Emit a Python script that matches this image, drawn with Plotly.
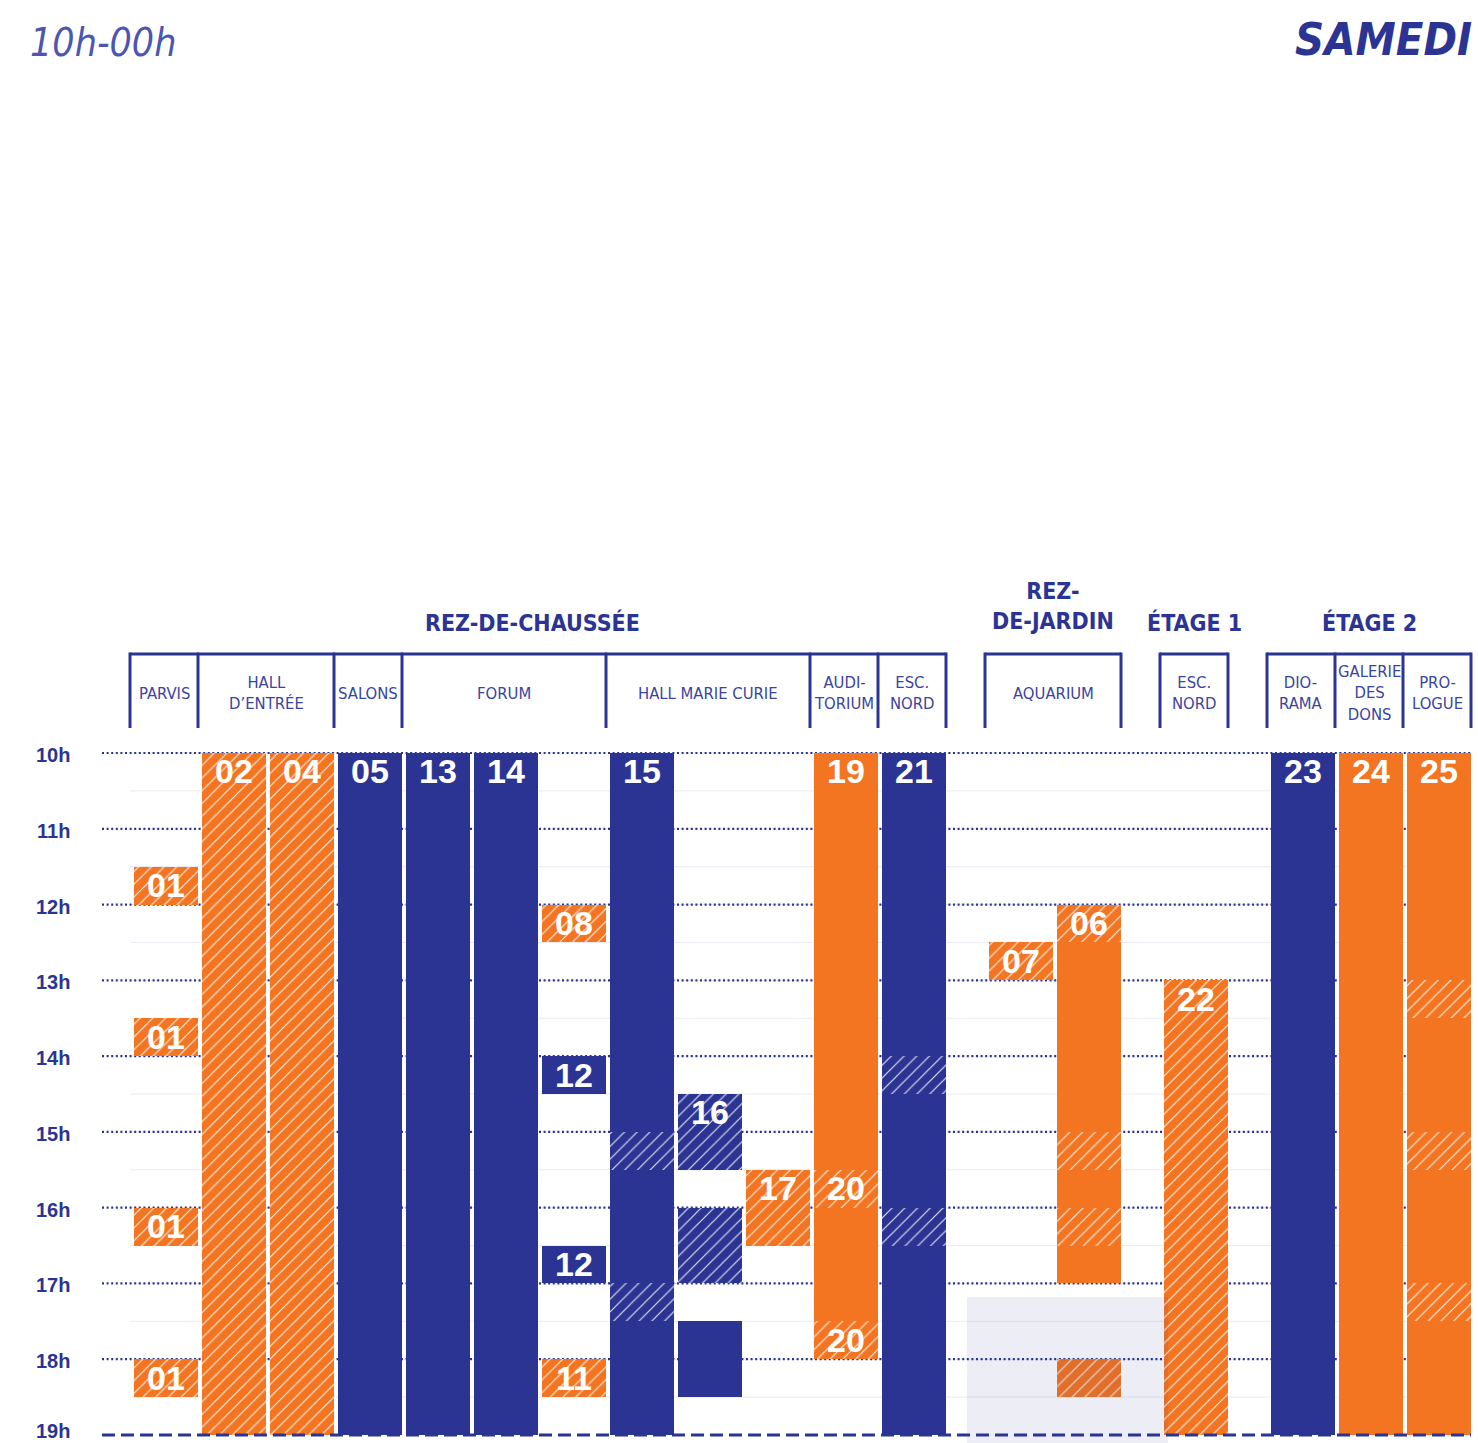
import plotly.graph_objects as go

W, H = 1478, 1443
NAVY = "#2B3492"
ORANGE = "#F37521"
TEXT_NAVY = "#3A44A2"
NARROW = "'DejaVu Sans Condensed', 'Liberation Sans Narrow', 'Arial Narrow', sans-serif"
SANS = "'Liberation Sans', Arial, sans-serif"

# ---------------- data ----------------
hours = list(range(10, 20))
hour_labels = [f"{h}h" for h in hours]

floors = ["REZ-DE-CHAUSSÉE", "REZ-<br>DE-JARDIN", "ÉTAGE 1", "ÉTAGE 2"]
venue_names = ["PARVIS", "HALL<br>D’ENTRÉE", "SALONS", "FORUM", "HALL MARIE CURIE",
               "AUDI-<br>TORIUM", "ESC.<br>NORD", "AQUARIUM", "ESC.<br>NORD",
               "DIO-<br>RAMA", "GALERIE<br>DES<br>DONS", "PRO-<br>LOGUE"]
venue_slots = [1, 2, 1, 3, 3, 1, 1, 2, 1, 1, 1, 1]
venue_floor = [0, 0, 0, 0, 0, 0, 0, 1, 2, 3, 3, 3]

# segments: slot index, start hour, end hour, kind (O/N = orange/navy, H = hatched)
seg_slot = [0, 0, 0, 0,
            1, 2, 3, 4, 5,
            6, 6, 6, 6,
            7, 7, 7, 7, 7,
            8, 8, 8,
            9,
            10, 10, 10, 10,
            11, 11, 11, 11, 11,
            12,
            13, 13, 13, 13, 13, 13, 13,
            14,
            15, 16,
            17, 17, 17, 17, 17, 17, 17]
seg_start = [11.5, 13.5, 16, 18,
             10, 10, 10, 10, 10,
             12, 14, 16.5, 18,
             10, 15, 15.5, 17, 17.5,
             14.5, 16, 17.5,
             15.5,
             10, 15.5, 16, 17.5,
             10, 14, 14.5, 16, 16.5,
             12.5,
             12, 12.5, 15, 15.5, 16, 16.5, 18,
             13,
             10, 10,
             10, 13, 13.5, 15, 15.5, 17, 17.5]
seg_end = [12, 14, 16.5, 18.5,
           19, 19, 19, 19, 19,
           12.5, 14.5, 17, 18.5,
           15, 15.5, 17, 17.5, 19,
           15.5, 17, 18.5,
           16.5,
           15.5, 16, 17.5, 18,
           14, 14.5, 16, 16.5, 19,
           13,
           12.5, 15, 15.5, 16, 16.5, 17, 18.5,
           19,
           19, 19,
           13, 13.5, 15, 15.5, 17, 17.5, 19]
seg_kind = ["OH", "OH", "OH", "OH",
            "OH", "OH", "N", "N", "N",
            "OH", "N", "N", "OH",
            "N", "NH", "N", "NH", "N",
            "NH", "NH", "N",
            "OH",
            "O", "OH", "O", "OH",
            "N", "NH", "N", "NH", "N",
            "OH",
            "OH", "O", "OH", "O", "OH", "O", "OH",
            "OH",
            "N", "O",
            "O", "OH", "O", "OH", "O", "OH", "O"]

label_text = ["01", "01", "01", "01", "02", "04", "05", "13", "14", "08", "12", "12", "11",
              "15", "16", "17", "19", "20", "20", "21", "07", "06", "22", "23", "24", "25"]
label_slot = [0, 0, 0, 0, 1, 2, 3, 4, 5, 6, 6, 6, 6,
              7, 8, 9, 10, 10, 10, 11, 12, 13, 14, 15, 16, 17]
label_start = [11.5, 13.5, 16, 18, 10, 10, 10, 10, 10, 12, 14, 16.5, 18,
               10, 14.5, 15.5, 10, 15.5, 17.5, 10, 12.5, 12, 13, 10, 10, 10]

# ---------------- layout helpers ----------------
SLOT_W = 68
X_START = 130
FLOOR_GAP = 39
BAR_W = 64
Y_TOP_PX, Y_BOT_PX = 753, 1435  # pixel rows of 10h and 19h
ppu = (Y_BOT_PX - Y_TOP_PX) / (hours[-1] - hours[0])
y_range = [hours[-1] + (H - Y_BOT_PX) / ppu, hours[0] - Y_TOP_PX / ppu]


def py(px):
    return 1 - px / H


def hour_of(px):
    return hours[0] + (px - Y_TOP_PX) / ppu


# slot lefts & venue boxes
slot_left = []
venue_left, venue_right = [], []
x = X_START
prev_floor = venue_floor[0]
for n, f in zip(venue_slots, venue_floor):
    if f != prev_floor:
        x += FLOOR_GAP
        prev_floor = f
    venue_left.append(x)
    for k in range(n):
        slot_left.append(x + k * SLOT_W)
    x += n * SLOT_W
    venue_right.append(x)

slot_center = [l + SLOT_W / 2 + 2 for l in slot_left]
X_LINE0 = 102
X_LINE1 = venue_right[-1]

fig = go.Figure()

styles = {
    "O": dict(color=ORANGE, hatch=False),
    "OH": dict(color=ORANGE, hatch=True),
    "N": dict(color=NAVY, hatch=False),
    "NH": dict(color=NAVY, hatch=True),
}
for kind, st in styles.items():
    idx = [i for i, k in enumerate(seg_kind) if k == kind]
    marker = dict(color=st["color"], line=dict(width=0))
    if st["hatch"]:
        marker["pattern"] = dict(shape="/", fgcolor="white", bgcolor=st["color"],
                                 size=9, solidity=0.13, fillmode="overlay", fgopacity=0.85)
    fig.add_trace(go.Bar(
        x=[slot_center[seg_slot[i]] for i in idx],
        base=[seg_start[i] for i in idx],
        y=[seg_end[i] - seg_start[i] for i in idx],
        width=[BAR_W] * len(idx),
        marker=marker,
        hoverinfo="skip",
    ))

fig.add_trace(go.Scatter(
    x=[slot_center[s] for s in label_slot],
    y=[s + 0.29 for s in label_start],
    text=label_text,
    mode="text",
    textfont=dict(family=SANS, size=34, color="white", weight="bold"),
    hoverinfo="skip",
))

shapes = []
# faint half-hour lines
for i in range(len(hours) - 1):
    for hh in (hours[i], hours[i] + 0.5):
        shapes.append(dict(type="line", xref="x", yref="y", x0=X_START, x1=X_LINE1,
                           y0=hh, y1=hh, layer="below",
                           line=dict(color="#EAEBF4", width=1)))
# dotted hour lines
for h in hours[:-1]:
    shapes.append(dict(type="line", xref="x", yref="y", x0=X_LINE0, x1=X_LINE1,
                       y0=h, y1=h, layer="below",
                       line=dict(color=NAVY, width=2.2, dash="2px,2.6px")))
# dashed end line
shapes.append(dict(type="line", xref="x", yref="y", x0=X_LINE0, x1=X_LINE1,
                   y0=hours[-1], y1=hours[-1], layer="above",
                   line=dict(color=NAVY, width=3, dash="13px,6px")))

# highlight overlay (rez-de-jardin evening)
shapes.append(dict(type="rect", xref="x", yref="y",
                   x0=venue_left[7] - 18, x1=venue_right[7] + 47,
                   y0=hour_of(1297), y1=y_range[0] + 0.2, layer="above",
                   fillcolor="rgba(43,52,146,0.09)", line=dict(width=0)))

# venue brackets
TOP_PX, BOT_PX = 654, 728
for fl in range(len(floors)):
    vidx = [i for i, f in enumerate(venue_floor) if f == fl]
    l, r = venue_left[vidx[0]], venue_right[vidx[-1]]
    shapes.append(dict(type="line", xref="x", yref="paper", x0=l, x1=r,
                       y0=py(TOP_PX), y1=py(TOP_PX), line=dict(color=NAVY, width=3)))
    edges = [venue_left[i] for i in vidx] + [r]
    for e in edges:
        shapes.append(dict(type="line", xref="x", yref="paper", x0=e, x1=e,
                           y0=py(TOP_PX - 1.5), y1=py(BOT_PX), line=dict(color=NAVY, width=3)))

annotations = []
# floor titles
for fl, name in enumerate(floors):
    vidx = [i for i, f in enumerate(venue_floor) if f == fl]
    cx = (venue_left[vidx[0]] + venue_right[vidx[-1]]) / 2
    if fl == 0:
        cx -= 6
    nlines = name.count("<br>") + 1
    annotations.append(dict(x=cx, y=py(622 - (nlines - 1) * 16), xref="x", yref="paper",
                            text=name, showarrow=False, xanchor="center", yanchor="middle",
                            font=dict(family=NARROW, size=23, color=NAVY, weight="bold")))
# venue names
for i, name in enumerate(venue_names):
    cx = (venue_left[i] + venue_right[i]) / 2
    annotations.append(dict(x=cx, y=py(693), xref="x", yref="paper", text=name,
                            showarrow=False, xanchor="center", yanchor="middle",
                            font=dict(family=NARROW, size=16.5, color=TEXT_NAVY)))
# hour labels
for h, lab in zip(hours, hour_labels):
    annotations.append(dict(x=53, y=h, xref="x", yref="y", text=lab, showarrow=False,
                            xanchor="center", yanchor="middle",
                            yshift=-2 if h < hours[-1] else 4,
                            font=dict(family=SANS, size=20, color=NAVY, weight="bold")))
# page titles
annotations.append(dict(x=28, y=py(42), xref="x", yref="paper", text="10h-00h",
                        showarrow=False, xanchor="left", yanchor="middle",
                        font=dict(family=NARROW, size=39, color="#4C56B2", style="italic")))
annotations.append(dict(x=1474, y=py(40), xref="x", yref="paper", text="SAMEDI",
                        showarrow=False, xanchor="right", yanchor="middle",
                        font=dict(family=NARROW, size=45, color=NAVY, weight="bold", style="italic")))

fig.update_layout(
    width=W, height=H,
    margin=dict(l=0, r=0, t=0, b=0),
    paper_bgcolor="white", plot_bgcolor="white",
    barmode="overlay", bargap=0,
    showlegend=False,
    xaxis=dict(range=[0, W], visible=False, fixedrange=True),
    yaxis=dict(range=y_range, visible=False, fixedrange=True),
    shapes=shapes,
    annotations=annotations,
)

fig.write_html("out.html", config={"displayModeBar": False},
               post_script="document.body.style.margin='0';document.body.style.overflow='hidden';")
